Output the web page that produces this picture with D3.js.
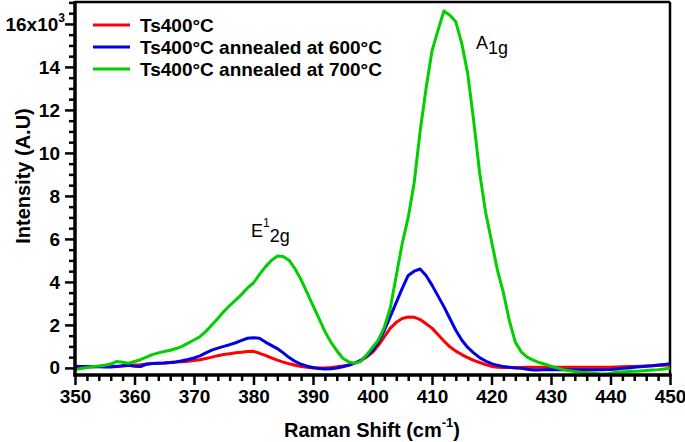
<!DOCTYPE html>
<html>
<head>
<meta charset="utf-8">
<script src="https://cdn.jsdelivr.net/npm/d3@7"></script>
<style>
html,body{margin:0;padding:0;background:#fff;}
svg{display:block;}
text{font-family:"Liberation Sans",Arial,sans-serif;}
</style>
</head>
<body>
<svg id="chart" width="685" height="442"></svg>
<script>
// Raman shift (cm-1)
const shift = d3.range(350, 451, 1);
// Intensity in units of 10^3
const ts400 = [0.02,0.03,0.04,0.05,0.06,0.07,0.08,0.08,0.09,0.11,
  0.13,0.15,0.18,0.2,0.22,0.23,0.25,0.27,0.29,0.31,
  0.34,0.38,0.44,0.5,0.57,0.62,0.66,0.7,0.73,0.76,
  0.77,0.68,0.58,0.47,0.36,0.27,0.19,0.12,0.07,0.03,
  0.0,0.0,0.0,0.02,0.05,0.09,0.14,0.22,0.33,0.5,
  0.72,1.05,1.45,1.85,2.12,2.3,2.37,2.36,2.25,2.05,
  1.85,1.55,1.25,0.98,0.78,0.62,0.48,0.35,0.25,0.15,
  0.07,0.03,0.02,0.02,0.02,0.02,0.03,0.03,0.03,0.03,
  0.03,0.03,0.03,0.03,0.03,0.03,0.03,0.03,0.03,0.03,
  0.03,0.04,0.05,0.06,0.07,0.08,0.09,0.1,0.11,0.12,0.13];
const ann600 = [0.08,0.07,0.06,0.05,0.05,0.04,0.04,0.06,0.1,0.12,
  0.08,0.06,0.17,0.2,0.22,0.23,0.25,0.28,0.33,0.39,
  0.46,0.56,0.7,0.83,0.92,1.0,1.08,1.17,1.28,1.38,
  1.4,1.38,1.2,1.05,0.9,0.7,0.48,0.3,0.17,0.08,
  0.02,-0.03,-0.05,-0.04,0.0,0.05,0.12,0.22,0.35,0.55,
  0.8,1.2,1.75,2.4,3.05,3.7,4.3,4.5,4.6,4.3,
  3.85,3.35,2.85,2.3,1.75,1.3,0.95,0.7,0.48,0.32,
  0.2,0.12,0.06,0.03,0.0,-0.02,-0.06,-0.1,-0.1,-0.08,
  -0.08,-0.08,-0.08,-0.09,-0.09,-0.09,-0.08,-0.08,-0.08,-0.08,
  -0.07,-0.05,-0.02,0.0,0.03,0.05,0.08,0.1,0.13,0.16,0.19];
const ann700 = [-0.08,-0.03,0.02,0.06,0.09,0.12,0.18,0.3,0.26,0.22,
  0.3,0.38,0.5,0.62,0.7,0.76,0.82,0.9,1.0,1.15,
  1.3,1.45,1.7,2.0,2.3,2.62,2.9,3.15,3.42,3.72,
  3.95,4.35,4.7,5.0,5.2,5.18,5.0,4.6,4.1,3.5,
  2.9,2.3,1.7,1.2,0.8,0.45,0.28,0.22,0.3,0.6,
  0.95,1.3,1.9,2.8,4.3,5.8,7.0,8.6,11.0,13.0,
  14.75,15.7,16.6,16.4,16.1,15.1,13.7,11.5,9.1,7.25,
  5.9,4.55,3.5,2.2,1.2,0.75,0.5,0.36,0.25,0.17,
  0.08,0.0,-0.08,-0.13,-0.17,-0.2,-0.22,-0.24,-0.27,-0.28,
  -0.25,-0.2,-0.18,-0.17,-0.15,-0.14,-0.12,-0.1,-0.08,-0.05,-0.02];

const seriesNames = ["Ts400°C","Ts400°C annealed at 600°C","Ts400°C annealed at 700°C"];
const seriesColors = ["#ff0000","#0000e6","#00d000"];
const seriesValues = [ts400, ann600, ann700];

const xTicks = [350,360,370,380,390,400,410,420,430,440,450];
const yTicks = [0,2,4,6,8,10,12,14,16];

const svg = d3.select("#chart");
const x = d3.scaleLinear().domain([350,450]).range([75,670]);
const y = d3.scaleLinear().domain([-0.33,17.02]).range([375,2]);

// frame (top & right)
svg.append("line").attr("x1",75).attr("x2",670).attr("y1",2).attr("y2",2)
  .attr("stroke","#000").attr("stroke-width",2.5);
svg.append("line").attr("x1",670).attr("x2",670).attr("y1",2).attr("y2",375)
  .attr("stroke","#000").attr("stroke-width",2.5);

// curves
const line = d3.line().x((d,i)=>x(shift[i])).y(d=>y(d));
seriesValues.forEach((vals,k)=>{
  svg.append("path").datum(vals).attr("d",line)
    .attr("fill","none").attr("stroke",seriesColors[k])
    .attr("stroke-width",3).attr("stroke-linejoin","round");
});

// x axis
const xMinor = d3.range(350,451,2).filter(v=>v%10!==0);
const gx = svg.append("g").attr("transform","translate(0,375)");
gx.call(d3.axisBottom(x).tickValues(xTicks).tickSize(10).tickPadding(5).tickFormat(d3.format("d")));
gx.append("g").call(d3.axisBottom(x).tickValues(xMinor).tickSize(6).tickFormat(""));
gx.selectAll(".domain").attr("stroke-width",3).attr("d","M73.5,0H671.5");
gx.selectAll("line").attr("stroke-width",2.5);
gx.selectAll("text").attr("font-size",19).attr("font-weight","bold").attr("fill","#000")
  .attr("font-family","'Liberation Sans',Arial,sans-serif");

// y axis
const yMinor = d3.range(0,17.01,0.5).filter(v=>v%2!==0);
const gy = svg.append("g").attr("transform","translate(75,0)");
gy.call(d3.axisLeft(y).tickValues(yTicks).tickSize(10).tickPadding(5).tickFormat(d=> d===16 ? "" : d3.format("d")(d)));
gy.append("g").call(d3.axisLeft(y).tickValues(yMinor).tickSize(6).tickFormat(""));
gy.selectAll(".domain").attr("stroke-width",3).attr("d","M0,1V376.5");
gy.selectAll("line").attr("stroke-width",2.5);
gy.selectAll("text").attr("font-size",19).attr("font-weight","bold").attr("fill","#000")
  .attr("font-family","'Liberation Sans',Arial,sans-serif");
// special 16x10^3 label
const t16 = gy.append("text").attr("x",-10).attr("y",y(16)).attr("dy","0.35em")
  .attr("text-anchor","end").attr("font-size",19).attr("font-weight","bold").attr("fill","#000");
t16.append("tspan").text("16x10");
t16.append("tspan").attr("font-size",12).attr("dy","-0.75em").text("3");

// axis titles
svg.append("text").attr("transform","translate(30,176) rotate(-90)")
  .attr("text-anchor","middle").attr("font-size",20).attr("font-weight","bold").text("Intensity (A.U)");
const xt = svg.append("text").attr("x",372).attr("y",437).attr("text-anchor","middle")
  .attr("font-size",20).attr("font-weight","bold");
xt.append("tspan").text("Raman Shift (cm");
xt.append("tspan").attr("font-size",13).attr("dy","-0.75em").text("-1");
xt.append("tspan").attr("dy","0.49em").text(")");

// legend
seriesNames.forEach((n,k)=>{
  const ly = 25 + k*22;
  svg.append("line").attr("x1",93).attr("x2",130).attr("y1",ly).attr("y2",ly)
    .attr("stroke",seriesColors[k]).attr("stroke-width",3);
  svg.append("text").attr("x",140).attr("y",ly).attr("dy","0.36em")
    .attr("font-size",19).attr("font-weight","bold").text(n);
});

// peak annotations
const e = svg.append("text").attr("x",251).attr("y",237).attr("font-size",18);
e.append("tspan").text("E");
e.append("tspan").attr("font-size",12).attr("dy","-0.8em").text("1");
e.append("tspan").attr("dy","0.8em").text("2g");
const a = svg.append("text").attr("x",476).attr("y",49).attr("font-size",18);
a.append("tspan").text("A");
a.append("tspan").attr("dy","0.3em").text("1g");
</script>
</body>
</html>
